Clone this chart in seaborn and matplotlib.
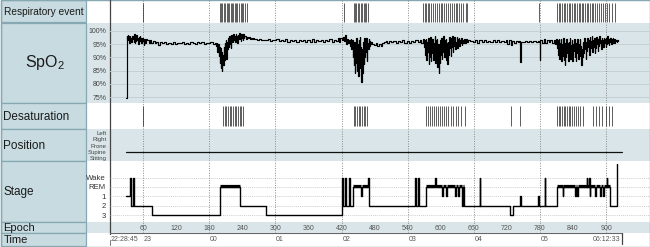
import matplotlib
matplotlib.use("Agg")
import matplotlib.pyplot as plt
from matplotlib.patches import Rectangle
import pandas as pd
import seaborn as sns

# ---------------- data (epochs of 30 s) ----------------
row_labels = ["Respiratory event", "SpO2", "Desaturation", "Position", "Stage", "Epoch", "Time"]

resp_events = [60, 199, 201, 204, 206, 209, 212, 214, 216, 219, 222, 224, 227, 229, 231, 234,
               237, 240, 242, 245, 248, 425, 443, 445, 447, 450, 452, 455, 457, 460, 462, 465,
               468, 568, 571, 574, 577, 579, 583, 586, 590, 593, 596, 600, 603, 606, 610, 613,
               617, 620, 624, 627, 630, 633, 637, 641, 645, 648, 778, 811, 814, 817, 820, 823,
               826, 829, 832, 835, 838, 841, 844, 847, 850, 853, 856, 859, 862, 865, 868, 871,
               874, 877, 880, 884, 887, 890, 894, 898, 902, 906, 911, 917]

desat_events = [60, 205, 208, 211, 214, 217, 220, 223, 226, 229, 232, 235, 238, 241, 443, 445,
                448, 451, 454, 457, 460, 463, 466, 573, 577, 581, 584, 588, 592, 595, 599, 602,
                606, 610, 614, 618, 622, 627, 632, 637, 644, 727, 744, 811, 814, 817, 820, 823,
                826, 829, 832, 835, 838, 841, 845, 849, 853, 858, 876, 881, 887, 893, 899, 905, 911]

spo2_onset = [(29, 74.5), (30, 98), (31, 96.5), (32, 98.5), (33, 97), (34, 98), (35, 95.5),
              (36, 98), (37, 96.5), (38, 97.5), (39, 95.8), (40, 98.2), (41, 96.8), (42, 97.6),
              (43, 96), (44, 98.8), (45, 95.5), (46, 97.5), (47, 96.2), (48, 98.4), (49, 96.6),
              (50, 97.2), (51, 95), (52, 97.8), (53, 96.2), (54, 98), (55, 96.6), (56, 97.4),
              (57, 95.4), (58, 97.2), (60, 96.2), (61, 94.7), (62, 97), (64, 95.6), (66, 96.8)]

spo2_stable1 = [(68, 96.4), (70, 95.6), (72, 96.6), (75, 95.4), (78, 96.2), (81, 95.6), (84, 95.9),
                (87, 94.8), (90, 95.7), (94, 95.3), (98, 95.8), (102, 95.1), (106, 95.6), (110, 95.2),
                (114, 95.7), (118, 94.9), (122, 95.5), (126, 95.3), (130, 95.7), (134, 95.1),
                (138, 95.6), (142, 95.2), (146, 95.8), (150, 95.4), (154, 95.1), (158, 95.7),
                (162, 95.3), (166, 95.8), (170, 95.2), (174, 95.6), (178, 95.3), (182, 95.7),
                (186, 95.1), (190, 95.5)]

spo2_dip1 = [(192, 94.5), (194, 95.5), (195, 92), (196, 95), (197, 90.5), (198, 94), (199, 88),
             (200, 93.5), (201, 86), (202, 92), (203, 84.8), (204, 91), (205, 87), (206, 94),
             (207, 89), (208, 95.5), (209, 91), (210, 96.5), (211, 89.5), (212, 96), (213, 93),
             (214, 97.5), (215, 94), (216, 98), (217, 95), (218, 97), (219, 93.5), (220, 98.5),
             (221, 96), (222, 97.5), (223, 96), (224, 98.8), (225, 96.5), (226, 98), (227, 95.8),
             (228, 99), (229, 97), (230, 98.2), (231, 95.5), (232, 98.6), (233, 96.8), (234, 99.2),
             (235, 97), (236, 98), (237, 96.2), (238, 98.7), (239, 97.2), (240, 98.3), (241, 96.5),
             (242, 98.9), (243, 97.4), (244, 98), (246, 96.8), (248, 97.9), (250, 97.2),
             (252, 97.6), (254, 96.9), (256, 97.4), (258, 97), (260, 97.3), (262, 96.8)]

spo2_stable2 = [(266, 96.6), (270, 96.8), (274, 96.5), (278, 96.7), (282, 96.4), (286, 96.8),
                (290, 96.3), (294, 96.7), (298, 96.5), (302, 96.8), (306, 96.1), (310, 96.6),
                (314, 96.3), (318, 96.8), (322, 95.9), (326, 96.5), (330, 96.2), (334, 96.7),
                (338, 95.8), (342, 96.4), (346, 96.1), (350, 96.6), (354, 95.7), (358, 96.5),
                (362, 96.0), (366, 96.8), (370, 95.8), (374, 96.4), (378, 96.1), (382, 96.7),
                (386, 95.9), (390, 96.5), (394, 96.2), (398, 96.9), (402, 96.0), (406, 96.6),
                (410, 96.3), (414, 97.2), (416, 96.0), (418, 97.5), (420, 96.4), (422, 97.8),
                (424, 96.2), (426, 98.4), (428, 95.2), (430, 96.8), (432, 95.6), (434, 96.5),
                (436, 94.5)]

spo2_dip2 = [(437, 97), (438, 93), (439, 96.5), (440, 90), (441, 95.5), (442, 87), (443, 96),
             (444, 84), (445, 94.5), (446, 88), (447, 97.5), (448, 85), (449, 95), (450, 83),
             (451, 96.5), (452, 89), (453, 97.8), (454, 86), (455, 94), (456, 80.8), (457, 93),
             (458, 84), (459, 96), (460, 87.5), (461, 97.5), (462, 90), (463, 96.5), (464, 92),
             (465, 97.2), (466, 88.5), (467, 95.5), (468, 93), (469, 96.8), (470, 94.5),
             (471, 96.2), (472, 95), (474, 95.8)]

spo2_stable3 = [(476, 95.2), (479, 94.6), (482, 95.4), (485, 94.5), (488, 95.1), (491, 94.4),
                (494, 95.3), (497, 95.8), (500, 96.3), (503, 95.6), (506, 96.2), (510, 95.7),
                (514, 96.3), (518, 95.5), (522, 96.1), (526, 95.8), (530, 96.4), (534, 95.6),
                (538, 96.2), (542, 95.4), (546, 96.3), (550, 95.7), (554, 96.5), (558, 95.9),
                (562, 96.6), (565, 95.5), (568, 96.8)]

spo2_dip3 = [(570, 94), (571, 96.5), (572, 91), (573, 97), (574, 89), (575, 96), (576, 92),
             (577, 97.5), (578, 87.5), (579, 95), (580, 90), (581, 97.8), (582, 88.5), (583, 96),
             (584, 91.5), (585, 97), (586, 89), (587, 95.5), (588, 92.5), (589, 98), (590, 88),
             (591, 96.5), (592, 90.5), (593, 97), (594, 86.5), (595, 95), (596, 84), (597, 94),
             (598, 88), (599, 96.5), (600, 91), (601, 97.5), (602, 89.5), (603, 96), (604, 92),
             (605, 98), (606, 90), (607, 96.5), (608, 93), (609, 97), (610, 89), (611, 95.5),
             (612, 87.5), (613, 96), (614, 91), (615, 97.8), (616, 93.5), (617, 96.5),
             (618, 90.5), (619, 97.2), (620, 94), (621, 98), (622, 92), (623, 96.5), (624, 94.5),
             (625, 97.6), (626, 93), (627, 96), (628, 95), (629, 97.8), (630, 93.5), (631, 96.8),
             (632, 95.2), (633, 97.5), (634, 94.2), (635, 96.6), (636, 95.5), (637, 97.2),
             (638, 94.8), (639, 96.5), (640, 95.6), (642, 97), (644, 95.3), (646, 96.8),
             (648, 95.7), (650, 96.4)]

spo2_stable4 = [(654, 96.2), (658, 95.8), (662, 96.5), (666, 95.6), (670, 96.4), (674, 95.9),
                (678, 96.6), (682, 95.7), (686, 96.3), (690, 95.8), (694, 96.5), (698, 95.9),
                (702, 96.4), (706, 95.7), (710, 96.3), (714, 95.9), (718, 96.6), (721, 95.0),
                (724, 96.4), (727, 94.6), (730, 96.2), (733, 95.3), (736, 96.1), (740, 95.8),
                (742, 96.2), (743, 95.5), (744, 88.3), (745, 96), (748, 95.8), (752, 96.3),
                (756, 95.9), (760, 96.1), (764, 96.0), (768, 96.2), (772, 95.9), (776, 96.1),
                (779, 95.8), (780, 89), (781, 96.4), (784, 95.6), (787, 96.8), (790, 95.5),
                (793, 96.4), (796, 95.7), (799, 96.6), (802, 95.5), (805, 96.5), (808, 95.2)]

spo2_dip4 = [(810, 96.8), (811, 93.5), (812, 96.5), (813, 91), (814, 97), (815, 89.5), (816, 95.5),
             (817, 92), (818, 96.8), (819, 88.5), (820, 95), (821, 90.5), (822, 97.2), (823, 89),
             (824, 94.5), (825, 87.2), (826, 95.5), (827, 90), (828, 96.8), (829, 91.5),
             (830, 95.5), (831, 88.5), (832, 96), (833, 92), (834, 97.5), (835, 89.5), (836, 94.8),
             (837, 91), (838, 96.5), (839, 88.8), (840, 95), (841, 92.5), (842, 97), (843, 90),
             (844, 95.5), (845, 88.5), (846, 94), (847, 91.5), (848, 96.8), (849, 89.5), (850, 95),
             (851, 92), (852, 97), (853, 90.5), (854, 94.5), (855, 87), (856, 93), (857, 90),
             (858, 96), (859, 91.5), (860, 97.2), (861, 93), (862, 96), (863, 89.5), (864, 95.5),
             (865, 92.5), (866, 97.5), (867, 94), (868, 96.5), (869, 91), (870, 97.8), (871, 93.5),
             (872, 96.2), (873, 94.5), (874, 98), (875, 92), (876, 96.5), (877, 94), (878, 97.5),
             (879, 91.5), (880, 96), (881, 93.5), (882, 97.8), (883, 95), (884, 96.5), (885, 92.5),
             (886, 97), (887, 94.5), (888, 98), (889, 95.5), (890, 96.5), (891, 93), (892, 97.2),
             (893, 95), (894, 96.4), (895, 94), (896, 97.5), (897, 95.6), (898, 96.8), (899, 93.8),
             (900, 97.2), (901, 95.2), (902, 98.2), (903, 95.5), (904, 97), (905, 94.8),
             (906, 96.5), (907, 95.8), (908, 97.4), (909, 95.2), (910, 96.8), (911, 95.6),
             (912, 97.2), (913, 96), (914, 96.8), (915, 95.4), (916, 97), (917, 96.2), (918, 96.6),
             (919, 95.8), (920, 96.5), (921, 96.2), (922, 96.5)]

spo2_ticks = [75, 80, 85, 90, 95, 100]

position_names = ["Sitting", "Supine", "Prone", "Right", "Left"]
position_epochs = [29, 929]
position_levels = [1, 1]          # Supine all night

stage_names = ["3", "2", "1", "REM", "Wake"]
# change points of the hypnogram: (epoch, level) with 0=3, 1=2, 2=1, 3=REM, 4=Wake
stage_changes = [(29, 2), (36, 4), (38, 1), (41, 4), (44, 1), (77, 0), (200, 3), (236, 1),
                 (283, 0), (420, 4), (422, 1), (427, 4), (429, 1), (433, 4), (435, 1), (441, 3),
                 (456, 2), (458, 3), (468, 4), (470, 1), (554, 4), (556, 1), (558, 4), (560, 1),
                 (573, 3), (590, 4), (592, 3), (602, 2), (604, 3), (610, 2), (612, 3), (626, 2),
                 (628, 3), (631, 2), (633, 3), (638, 1), (640, 3), (642, 1), (671, 4), (672, 1),
                 (725, 0), (731, 1), (743, 2), (745, 1), (777, 2), (779, 1), (789, 4), (790, 1),
                 (811, 3), (821, 2), (822, 3), (844, 2), (845, 3), (848, 2), (849, 3), (865, 4),
                 (866, 3), (869, 4), (870, 2), (871, 3), (880, 2), (881, 3), (889, 2), (890, 3),
                 (895, 2), (896, 3), (901, 4), (902, 3), (907, 1), (920, 5.4)]

epoch_ticks = [60, 120, 180, 240, 300, 360, 420, 480, 540, 600, 660, 720, 780, 840, 900]
hour_lines = [60, 180, 300, 420, 540, 660, 780, 900]
time_labels = ["22:28:45", "23", "00", "01", "02", "03", "04", "05", "06:12:33"]
time_label_epochs = [0, 60, 180, 300, 420, 540, 660, 780, 928]

# ---------------- style ----------------
sns.set_style("white")
plt.rcParams['font.family'] = ['Liberation Sans', 'DejaVu Sans']
plt.rcParams['mathtext.fontset'] = 'custom'
plt.rcParams['mathtext.rm'] = 'Liberation Sans'
plt.rcParams['mathtext.it'] = 'Liberation Sans:italic'

LABEL_BG = '#c7dbe0'
BORDER = '#86a8b2'
SHADE = '#d9e5e8'
GRID = '#c3d1d5'
DOT = '#8a8a8a'

W, H = 650, 247
X0, X1 = 110, 650
PX_PER_EPOCH = 0.5512
XMAX = (X1 - X0) / PX_PER_EPOCH

fig = plt.figure(figsize=(6.5, 2.47), dpi=100)


def rect(x0, y0, x1, y1):
    return [x0 / W, 1 - y1 / H, (x1 - x0) / W, (y1 - y0) / H]


bg = fig.add_axes([0, 0, 1, 1])
bg.set_xlim(0, W)
bg.set_ylim(H, 0)
bg.axis('off')

row_bounds = [(0, 22.7), (22.7, 103), (103, 129), (129, 161), (161, 222), (222, 233), (233, 246.5)]
row_shaded = [False, True, False, True, False, True, False]
label_sizes = [7.3, 11.5, 8.4, 8.5, 8.5, 8.0, 8.0]
label_text = ["Respiratory event", "SpO$_2$", "Desaturation", "Position", "Stage", "Epoch", "Time"]

for (y0, y1), shaded, size, txt in zip(row_bounds, row_shaded, label_sizes, label_text):
    if shaded:
        bg.add_patch(Rectangle((86, y0), W - 86, y1 - y0, facecolor=SHADE, edgecolor='none', zorder=0))
    bg.add_patch(Rectangle((0.6, y0 + 0.4), 85.4, y1 - y0 - 0.8, facecolor=LABEL_BG,
                           edgecolor=BORDER, lw=0.9, zorder=1))
    if txt.startswith("SpO"):
        bg.text(45, (y0 + y1) / 2, txt, fontsize=size, ha='center', va='center', color='#1a1a1a', zorder=2)
    else:
        bg.text(3.5, (y0 + y1) / 2 + 0.5, txt, fontsize=size, ha='left', va='center', color='#1a1a1a', zorder=2)

# outer frame
bg.add_patch(Rectangle((0.5, 0.5), W - 1, H - 1, facecolor='none', edgecolor=BORDER, lw=1.0, zorder=3))
# left axis line
bg.plot([X0, X0], [0, 234], color='#444444', lw=0.9, zorder=4)


def data_ax(y0, y1):
    ax = fig.add_axes(rect(X0, y0, X1, y1))
    ax.set_facecolor('none')
    ax.set_xlim(0, XMAX)
    for s in ax.spines.values():
        s.set_visible(False)
    ax.set_xticks([])
    ax.tick_params(axis='y', length=0)
    return ax


def hour_grid(ax):
    for e in hour_lines:
        ax.axvline(e, color=DOT, ls=(0, (1, 1.5)), lw=0.7, zorder=1)


# Respiratory events
ax_r = data_ax(*row_bounds[0])
ax_r.set_ylim(0, 1)
ax_r.set_yticks([])
hour_grid(ax_r)
ax_r.vlines(resp_events, 0.05, 0.87, color='#262626', lw=0.65, alpha=0.8, zorder=2)

# SpO2
spo2_points = (spo2_onset + spo2_stable1 + spo2_dip1 + spo2_stable2 + spo2_dip2 +
               spo2_stable3 + spo2_dip3 + spo2_stable4 + spo2_dip4)
spo2_df = pd.DataFrame(spo2_points, columns=["epoch", "spo2"])
ax_s = data_ax(*row_bounds[1])
ax_s.set_ylim(72.73, 103.14)
ax_s.set_yticks(spo2_ticks)
ax_s.set_yticklabels([f"{v}%" for v in spo2_ticks], fontsize=5, color='#444444')
ax_s.tick_params(axis='y', pad=2.5)
for v in spo2_ticks:
    ax_s.axhline(v, color=GRID, lw=0.7, zorder=0)
hour_grid(ax_s)
sns.lineplot(data=spo2_df, x="epoch", y="spo2", ax=ax_s, color='black', lw=0.85,
             estimator=None, drawstyle='steps-post', zorder=3)
ax_s.set_xlabel('')
ax_s.set_ylabel('')
ax_s.set_xlim(0, XMAX)
ax_s.set_xticks([])

# Desaturation
ax_d = data_ax(*row_bounds[2])
ax_d.set_ylim(0, 1)
ax_d.set_yticks([])
hour_grid(ax_d)
ax_d.vlines(desat_events, 0.12, 0.9, color='#262626', lw=0.65, alpha=0.8, zorder=2)

# Position
ax_p = data_ax(*row_bounds[3])
ax_p.set_ylim(-0.42, 4.58)
ax_p.set_yticks(range(len(position_names)))
ax_p.set_yticklabels(position_names, fontsize=4.3, color='#444444')
ax_p.tick_params(axis='y', pad=2.5)
hour_grid(ax_p)
sns.lineplot(x=position_epochs, y=position_levels, ax=ax_p, color='#111111', lw=0.9, estimator=None)
ax_p.set_xlim(0, XMAX)
ax_p.set_xticks([])

# Stage
stage_df = pd.DataFrame(stage_changes, columns=["epoch", "level"])
ax_h = data_ax(*row_bounds[4])
ax_h.set_ylim(-0.74, 5.76)
ax_h.set_yticks(range(len(stage_names)))
ax_h.set_yticklabels(stage_names, fontsize=5.6, color='#333333')
ax_h.tick_params(axis='y', pad=3)
for lv in range(len(stage_names)):
    ax_h.axhline(lv, color='#bdbdbd', ls=(0, (1.5, 1.5)), lw=0.5, zorder=0)
hour_grid(ax_h)
sns.lineplot(data=stage_df, x="epoch", y="level", ax=ax_h, color='black', lw=1.0,
             estimator=None, drawstyle='steps-post', zorder=3)
rem = stage_df[stage_df.level == 3]
nxt = stage_df.epoch.shift(-1)
ax_h.hlines([3.1] * len(rem), rem.epoch, nxt[rem.index], color='black', lw=2.3, zorder=3)
ax_h.set_xlabel('')
ax_h.set_ylabel('')
ax_h.set_xlim(0, XMAX)
ax_h.set_xticks([])

# Epoch
ax_e = data_ax(*row_bounds[5])
ax_e.set_ylim(0, 1)
ax_e.set_yticks([])
hour_grid(ax_e)
for e in epoch_ticks:
    ax_e.text(e, 0.45, str(e), fontsize=5, ha='center', va='center', color='#555555')

# Time
ax_t = data_ax(*row_bounds[6])
ax_t.set_ylim(1, 0)
ax_t.set_yticks([])
ax_t.plot([0, time_label_epochs[-1] + 1], [0.02, 0.02], color='#666666', lw=0.8)
ax_t.plot([time_label_epochs[-1] + 1] * 2, [0.02, 0.8], color='#444444', lw=0.9)
ax_t.plot([0, 0], [0.55, 0.9], color='#666666', lw=0.6)
for lab, e in zip(time_labels, time_label_epochs):
    if lab == time_labels[-1]:
        ax_t.text(e - 2, 0.5, lab, fontsize=5, ha='right', va='center', color='#555555')
    elif lab == time_labels[0]:
        ax_t.text(e + 1, 0.5, lab, fontsize=5, ha='left', va='center', color='#555555')
    else:
        ax_t.text(e + 1.5, 0.5, lab, fontsize=5, ha='left', va='center', color='#555555')

fig.savefig("out.png", dpi=100)
